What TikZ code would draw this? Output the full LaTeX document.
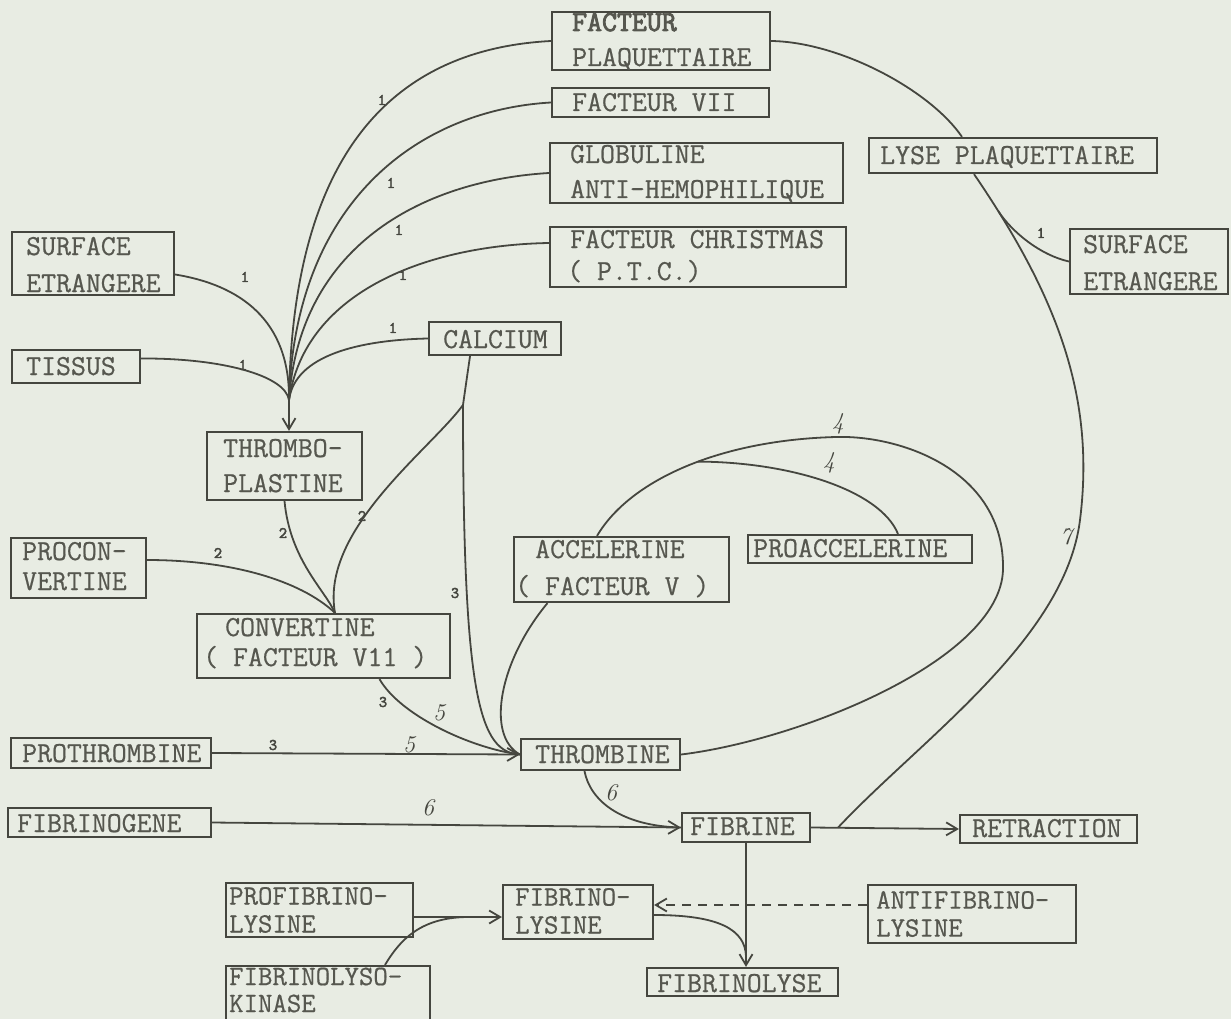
\documentclass[tikz,border=0pt]{standalone}
\usepackage{fontspec}
\usetikzlibrary{arrows.meta}
\newfontfamily\tw{Latin Modern Mono}[FakeBold=0.6]
\newfontfamily\twb{Latin Modern Mono}[FakeBold=3]
\definecolor{bgc}{HTML}{E8ECE3}
\definecolor{ink}{HTML}{45463F}
\definecolor{txt}{HTML}{56574F}
\begin{document}
\begin{tikzpicture}[x=1pt,y=-1pt,
  bx/.style={draw=ink, line width=2.2pt, inner sep=0pt, fill=bgc},
  tx/.style={anchor=base west, inner sep=0pt, text height=18pt, text depth=2pt, text=txt, font=\tw\fontsize{29}{34}\selectfont},
  tx2/.style={anchor=west, inner sep=0pt, align=left, text=txt, font=\tw\fontsize{28}{#1}\selectfont},
  ln/.style={draw=ink, line width=1.8pt},
  arr/.style={ln, -{Straight Barb[length=11pt,width=13pt]}},
  one/.style={inner sep=0pt, text=ink, font=\twb\fontsize{16}{16}\selectfont},
  hw/.style={inner sep=0pt, text=ink, font=\itshape\fontsize{24}{24}\selectfont},
]
\useasboundingbox (0,0) rectangle (1231,1019);
\fill[bgc] (0,0) rectangle (1231,1019);
\clip (0,0) rectangle (1231,1019);

% boxes
\node[bx, minimum width=218pt, minimum height=58pt] (fp) at (661,41) {};
\node[bx, minimum width=217pt, minimum height=29pt] (f7) at (660.5,102.5) {};
\node[bx, minimum width=293pt, minimum height=60pt] (glob) at (696.5,173) {};
\node[bx, minimum width=296pt, minimum height=60pt] (chr) at (698,257) {};
\node[bx, minimum width=288pt, minimum height=35pt] (lyse) at (1013,155.5) {};
\node[bx, minimum width=158pt, minimum height=65pt] (ser) at (1149,261.5) {};
\node[bx, minimum width=162pt, minimum height=63pt] (sel) at (93,263.5) {};
\node[bx, minimum width=128pt, minimum height=33pt] (tis) at (76,366.5) {};
\node[bx, minimum width=132pt, minimum height=33pt] (cal) at (495,338.5) {};
\node[bx, minimum width=155pt, minimum height=68pt] (thr) at (284.5,466) {};
\node[bx, minimum width=135pt, minimum height=60pt] (pro) at (78.5,568) {};
\node[bx, minimum width=253pt, minimum height=64pt] (conv) at (323.5,646) {};
\node[bx, minimum width=215pt, minimum height=65pt] (acc) at (621.5,569.5) {};
\node[bx, minimum width=224pt, minimum height=28pt] (proacc) at (860,549) {};
\node[bx, minimum width=200pt, minimum height=30pt] (prth) at (111,753) {};
\node[bx, minimum width=159pt, minimum height=31pt] (thb) at (600.5,754.5) {};
\node[bx, minimum width=203pt, minimum height=29pt] (fgen) at (109.5,822.5) {};
\node[bx, minimum width=128pt, minimum height=29pt] (fib) at (746,827.5) {};
\node[bx, minimum width=177pt, minimum height=28pt] (ret) at (1048.5,829) {};
\node[bx, minimum width=187pt, minimum height=54pt] (pfl) at (319.5,910) {};
\node[bx, minimum width=150pt, minimum height=54pt] (fl) at (578,912) {};
\node[bx, minimum width=208pt, minimum height=58pt] (afl) at (972,914) {};
\node[bx, minimum width=191pt, minimum height=28pt] (fly) at (742.5,982) {};
\node[bx, minimum width=204pt, minimum height=70pt] (fk) at (328,1001) {};

% helper coordinates
\coordinate (K) at (289,400);
\coordinate (C2) at ([xshift=11.5pt]conv.north);
\coordinate (B3) at (463,405);
\coordinate (J7) at ([xshift=27pt]fib.east);
\path (fib.south) ++(0,113) coordinate (J8);
\coordinate (J9) at ([xshift=52pt,yshift=-7pt]pfl.east);

% group 1 -> thromboplastine
\draw[ln] (fp.west) .. controls (380,50) and (292,170) .. (K);
\draw[ln] (f7.west) .. controls (420,110) and (295,200) .. (K);
\draw[ln] (glob.west) .. controls (430,180) and (300,240) .. (K);
\draw[ln] ([yshift=14pt]chr.west) .. controls (430,245) and (305,290) .. (K);
\draw[ln] (cal.west) .. controls (360,340) and (295,355) .. (K);
\draw[ln] ([yshift=-11pt]sel.east) .. controls (240,285) and (290,320) .. (K);
\draw[ln] ([yshift=8pt]tis.east) .. controls (220,358) and (285,375) .. (K);
\draw[arr] (K) -- (K |- thr.north);

% group 2 -> convertine
\draw[ln] (thr.south) .. controls (290,560) and (325,590) .. (C2);
\draw[ln] ([yshift=8pt]pro.east) .. controls (230,560) and (300,580) .. (C2);
\draw[ln] ([xshift=-25pt]cal.south) -- (B3);
\draw[ln] (B3) .. controls (430,450) and (320,530) .. (C2);
\draw[ln] (B3) .. controls (463,700) and (480,752) .. (thb.west);

% group 3/5 -> thrombine
\draw[ln] ([xshift=56pt]conv.south) .. controls (400,715) and (470,748) .. (thb.west);
\draw[arr] (prth.east) -- (thb.west);
\draw[ln] ([xshift=-74pt]acc.south) .. controls (500,660) and (485,735) .. (thb.west);

% group 6 -> fibrine
\draw[ln] ([xshift=-16pt]thb.south) .. controls (590,800) and (620,826) .. (fib.west);
\draw[arr] (fgen.east) -- (fib.west);

% group 4 loop
\draw[ln] (thb.east) .. controls (800,740) and (1000,660) .. (1003,570)
  .. controls (1005,470) and (900,435) .. (836,437)
  .. controls (720,440) and (630,480) .. ([xshift=-24.5pt]acc.north) coordinate[pos=0.45] (M);
\draw[ln] ([xshift=38pt]proacc.north) .. controls (880,490) and (790,462) .. (M);

% group 7
\draw[ln] (fp.east) .. controls (840,42) and (930,90) .. ([xshift=-51pt]lyse.north);
\draw[ln] ([xshift=-39pt]lyse.south) .. controls (1060,300) and (1095,400) .. (1080,520) coordinate[pos=0.1] (J1)
  .. controls (1065,640) and (920,740) .. (J7);
\draw[ln] (ser.west) .. controls (1040,255) and (1012,232) .. (J1);

% bottom
\draw[arr] (fib.east) -- (ret.west);
\draw[arr] (fib.south) -- (fib.south |- fly.north);
\draw[ln] ([yshift=-3pt]fl.east) .. controls (720,915) and (745,930) .. (J8);
\draw[arr, dash pattern=on 9pt off 7pt] ([yshift=9pt]afl.west) -- ([yshift=7pt]fl.east);
\draw[arr] ([yshift=-7pt]pfl.east) -- ([yshift=-5pt]fl.west);
\draw[ln] ([xshift=57pt]fk.north) .. controls (400,940) and (420,918) .. (J9);

% texts
\node[tx] (fp1) at (572,31) {\twb FACTEUR};
\node[tx] (fp2) at (572,66) {PLAQUETTAIRE};
\node[tx] (f7t) at (572,111) {FACTEUR VII};
\node[tx] (gl1) at (570,163) {GLOBULINE};
\node[tx] (gl2) at (570,198) {ANTI-HEMOPHILIQUE};
\node[tx] (ch1) at (570,248) {FACTEUR CHRISTMAS};
\node[tx] (ch2) at (567,280) {( P.T.C.)};
\node[tx] (lyt) at (880,164) {LYSE PLAQUETTAIRE};
\node[tx] (sr1) at (1083,253) {SURFACE};
\node[tx] (sr2) at (1083,290) {ETRANGERE};
\node[tx] (sl1) at (26,255) {SURFACE};
\node[tx] (sl2) at (26,292) {ETRANGERE};
\node[tx] (tit) at (26,375) {TISSUS};
\node[tx] (cat) at (443,348) {CALCIUM};
\node[tx] (th1) at (223,457) {THROMBO-};
\node[tx] (th2) at (223,492) {PLASTINE};
\node[tx] (pr1) at (22,560) {PROCON-};
\node[tx] (pr2) at (22,590) {VERTINE};
\node[tx] (cv1) at (225,636) {CONVERTINE};
\node[tx] (cv2) at (203,666) {( FACTEUR V11 )};
\node[tx] (ac1) at (535,558) {ACCELERINE};
\node[tx] (ac2) at (515,595) {( FACTEUR V )};
\node[tx] (pat) at (753,557) {PROACCELERINE};
\node[tx] (ptt) at (22,762) {PROTHROMBINE};
\node[tx] (tbt) at (535,763) {THROMBINE};
\node[tx] (fgt) at (17,832) {FIBRINOGENE};
\node[tx] (fbt) at (690,835) {FIBRINE};
\node[tx] (rtt) at (972,837) {RETRACTION};
\node[tx2=28pt] (pft) at (229,910) {PROFIBRINO-\\LYSINE};
\node[tx2=28pt] (flt) at (515,911) {FIBRINO-\\LYSINE};
\node[tx2=28pt] (aft) at (876,914) {ANTIFIBRINO-\\LYSINE};
\node[tx] (fyt) at (657,992) {FIBRINOLYSE};
\node[tx2=27pt] (fkt) at (229,990) {FIBRINOLYSO-\\KINASE};

% labels
\node[one] (o1) at (382,100) {1};
\node[one] (o2) at (391,183) {1};
\node[one] (o3) at (399,230) {1};
\node[one] (o4) at (403,275) {1};
\node[one] (o5) at (393,328) {1};
\node[one] (o6) at (245,277) {1};
\node[one] (o7) at (243,365) {1};
\node[one] (o8) at (1041,233) {1};
\node[one] (t2a) at (283,533) {2};
\node[one] (t2b) at (218,553) {2};
\node[one] (t2c) at (362,516) {2};
\node[one] (t3a) at (455,593) {3};
\node[one] (t3b) at (383,702) {3};
\node[one] (t3c) at (273,745) {3};
\node[hw] (h5a) at (439,713) {5};
\node[hw] (h5b) at (409,745) {5};
\node[hw] (h4a) at (838,424) {4};
\node[hw] (h4b) at (829,463) {4};
\node[hw] (h6a) at (611,793) {6};
\node[hw] (h6b) at (428,808) {6};
\node[hw] (h7) at (1066,537) {7};
\end{tikzpicture}
\end{document}
